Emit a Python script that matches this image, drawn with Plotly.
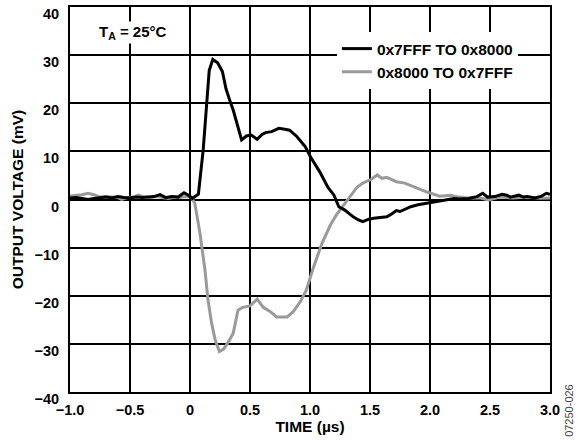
import plotly.graph_objects as go

# Black trace: 0x7FFF TO 0x8000
t_a = [-1.0, -0.95, -0.9, -0.85, -0.8, -0.75, -0.7, -0.65, -0.6, -0.55, -0.5, -0.45, -0.4, -0.35,
       -0.3, -0.25, -0.2, -0.15, -0.1, -0.05, -0.02, 0.02, 0.07, 0.11, 0.16, 0.19, 0.23, 0.27, 0.30,
       0.33, 0.36, 0.43, 0.47, 0.51, 0.56, 0.60, 0.63, 0.68, 0.74, 0.79, 0.83, 0.89, 0.96, 1.01, 1.08,
       1.15, 1.20, 1.24, 1.29, 1.36, 1.40, 1.44, 1.49, 1.53, 1.58, 1.64, 1.68, 1.72, 1.75, 1.79, 1.84,
       1.90, 1.95, 2.00, 2.07, 2.14, 2.20, 2.25, 2.32, 2.39, 2.44, 2.48, 2.54, 2.60, 2.64, 2.67, 2.71,
       2.74, 2.78, 2.81, 2.875, 2.93, 2.97, 3.0]
v_a = [0.3, 0.4, 0.2, 0.0, 0.2, 0.4, 0.5, 0.3, 0.6, 0.4, 0.3, 0.5, 0.4, 0.5,
       0.6, 1.0, 0.4, 0.6, 0.5, 1.4, 1.0, 0.25, 1.1, 10.3, 26.8, 29.1, 28.4, 26.6, 23.0,
       20.7, 18.6, 12.4, 13.2, 13.4, 12.5, 13.5, 13.9, 14.1, 14.8, 14.6, 14.4, 13.1, 11.0, 8.6, 5.8,
       2.5, 0.9, -1.5, -2.2, -3.6, -4.2, -4.6, -4.1, -3.9, -3.8, -3.6, -3.0, -2.3, -2.5, -2.0, -1.5,
       -1.1, -0.9, -0.7, -0.4, -0.1, 0.2, 0.1, 0.2, 0.6, 1.3, 0.5, 0.6, 1.1, 0.9, 0.5, 0.8,
       0.9, 0.5, 0.6, 0.3, 0.7, 1.3, 1.1]

# Gray trace: 0x8000 TO 0x7FFF
t_b = [-1.0, -0.95, -0.9, -0.85, -0.8, -0.75, -0.7, -0.65, -0.6, -0.57, -0.52, -0.47, -0.43, -0.38,
       -0.33, -0.28, -0.23, -0.18, -0.13, -0.08, -0.04, 0.01, 0.04, 0.083, 0.125, 0.15, 0.18, 0.21,
       0.245, 0.28, 0.32, 0.36, 0.40, 0.44, 0.50, 0.56, 0.61, 0.67, 0.72, 0.81, 0.86, 0.92, 0.97,
       1.03, 1.10, 1.17, 1.22, 1.31, 1.39, 1.44, 1.51, 1.56, 1.60, 1.64, 1.72, 1.79, 1.84, 1.90, 1.92,
       1.97, 2.02, 2.08, 2.17, 2.24, 2.31, 2.42, 2.49, 2.58, 2.69, 2.81, 2.92, 3.0]
v_b = [0.7, 0.8, 1.0, 1.3, 1.0, 0.5, 0.6, 0.5, 0.4, 0.0, 0.4, 0.5, 0.9, 0.5,
       0.4, 0.6, 0.4, 0.2, 0.5, 0.4, 0.6, 0.5, -0.8, -7.0, -14.7, -20.9, -25.7, -29.2,
       -31.6, -31.1, -29.6, -27.8, -23.0, -22.4, -22.1, -20.7, -22.4, -23.3, -24.4, -24.4, -23.3, -21.2, -18.8,
       -14.0, -9.1, -5.3, -3.2, -0.1, 2.5, 3.4, 4.2, 5.1, 4.4, 4.6, 3.7, 3.4, 2.9, 2.3, 2.0,
       1.6, 1.2, 0.7, 0.9, 0.5, 0.3, 0.3, -0.1, 0.5, 0.3, 0.5, 0.25, 0.3]

x_tickvals = [-1.0, -0.5, 0, 0.5, 1.0, 1.5, 2.0, 2.5, 3.0]
x_ticktext = ["\u22121.0", "\u22120.5", "0", "0.5", "1.0", "1.5", "2.0", "2.5", "3.0"]
y_tickvals = [-40, -30, -20, -10, 0, 10, 20, 30, 40]
y_ticktext = ["\u221240", "\u221230", "\u221220", "\u221210", "0", "10", "20", "30", "40"]

FONT = "Liberation Sans, Arial, sans-serif"
TICKF = dict(family=FONT, size=14.5, color="#000000", weight="bold")
TITLEF = dict(family=FONT, size=15.5, color="#000000", weight="bold")

fig = go.Figure()
fig.add_trace(go.Scatter(x=t_b, y=v_b, mode="lines", name="0x8000 TO 0x7FFF",
                         line=dict(color="#9a9a9a", width=3)))
fig.add_trace(go.Scatter(x=t_a, y=v_a, mode="lines", name="0x7FFF TO 0x8000",
                         line=dict(color="#000000", width=3)))

axis_common = dict(showgrid=True, gridcolor="#000000", gridwidth=1.5,
                   showline=True, linecolor="#000000", linewidth=2, mirror=True,
                   zeroline=False, ticks="", automargin=False, tickfont=TICKF)

fig.update_xaxes(range=[-1.0, 3.0], tickvals=x_tickvals, ticktext=x_ticktext,
                 ticklabelstandoff=4,
                 title=dict(text="TIME (\u00b5s)", font=TITLEF, standoff=2),
                 **axis_common)
fig.update_yaxes(range=[-40, 40], tickvals=y_tickvals, ticktext=y_ticktext,
                 ticklabelshift=7, ticklabelstandoff=6,
                 title=dict(text="OUTPUT VOLTAGE (mV)", font=TITLEF, standoff=7),
                 **axis_common)

fig.update_layout(
    width=577, height=444,
    margin=dict(l=70, r=27, t=7, b=52),
    paper_bgcolor="white", plot_bgcolor="white",
    font=dict(family=FONT, size=14, color="#000000"),
    legend=dict(x=0.556, y=0.935, xanchor="left", yanchor="top",
                bgcolor="white", borderwidth=0, traceorder="reversed",
                itemwidth=30, tracegroupgap=0,
                font=dict(family=FONT, size=15.5, color="#000000", weight="bold")),
    showlegend=True,
    annotations=[
        dict(text="T<sub>A</sub> = 25\u00b0C", xref="paper", yref="paper", x=0.056, y=0.935,
             xanchor="left", yanchor="middle", showarrow=False, bgcolor="white",
             font=dict(family=FONT, size=15, color="#000000", weight="bold")),
        dict(text="07250-026", xref="paper", yref="paper", x=1.0396, y=-0.049,
             xanchor="center", yanchor="middle", showarrow=False, textangle=-90,
             font=dict(family=FONT, size=11, color="#444444")),
    ],
)

fig.write_html("out.html", config={"displayModeBar": False},
               post_script="document.body.style.margin='0';document.body.style.padding='0';")
